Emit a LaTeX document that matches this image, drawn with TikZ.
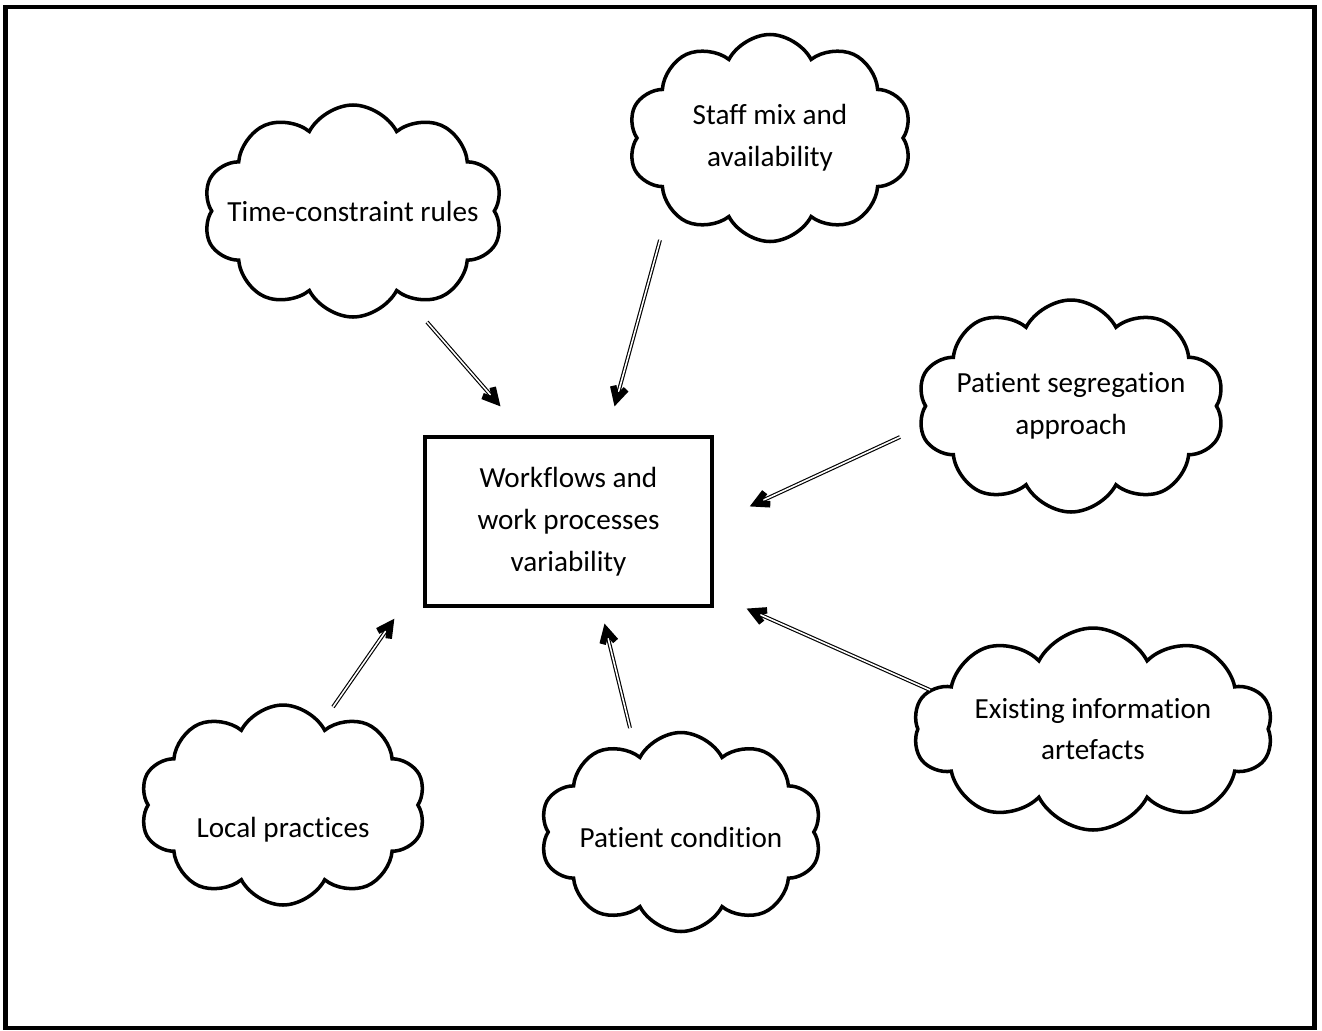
\documentclass[tikz,border=0pt]{standalone}
\usepackage{fontspec}
\setmainfont{Carlito}[Ligatures=NoCommon]
\usetikzlibrary{shapes.symbols,decorations.markings}
\newcommand{\dropby}[2]{\raisebox{-#1}[\height][\depth]{#2}}

\begin{document}
\begin{tikzpicture}[
  x=0.2mm,y=-0.2mm,
  txt/.style={align=center,font=\fontsize{16.6}{23.8}\selectfont},
  cloudbox/.style={txt,cloud,draw,line width=2pt,cloud puffs=10,cloud puff arc=125,
    cloud ignores aspect,inner sep=0pt},
  box/.style={txt,draw,line width=1.8pt,minimum width=5.74cm,minimum height=3.38cm,inner sep=0pt},
  arr/.style={line width=2.2pt,shorten >=2.2mm,
    postaction={draw=white,line width=0.9pt,shorten >=3mm},
    postaction={decorate,decoration={markings,mark=at position 1 with
      {\fill[black,shorten >=0pt,shorten <=0pt] (0mm,0mm) -- (-3.6mm,1.91mm) -- (-4.21mm,0.76mm)
         -- (-2.78mm,0mm) -- (-4.21mm,-0.76mm) -- (-3.6mm,-1.91mm) -- cycle;}}}}
]
\useasboundingbox (0,0) rectangle (1322,1030);
% ---------- frame ----------
\draw[line width=2.3pt] (5.5,7) rectangle (1314.5,1028);
% ---------- centre ----------
\node[box] (wf) at (568.5,521.5) {Workflows and\\work processes\\variability};
% ---------- factors ----------
\node[cloudbox,minimum width=6.0cm,minimum height=4.24cm,inner xsep=-0.32cm] (tcr) at (353,211) {Time-constraint rules};
\node[cloudbox,minimum width=5.68cm,minimum height=4.14cm] (staff) at (770,138) {Staff mix and\\availability};
\node[cloudbox,minimum width=6.14cm,minimum height=4.24cm,inner xsep=-0.13cm] (seg) at (1071,406) {Patient segregation\\approach};
\node[cloudbox,minimum width=7.2cm,minimum height=4.04cm] (exist) at (1093,729) {Existing information\\artefacts};
\node[cloudbox,minimum width=5.72cm,minimum height=4.0cm] (local) at (283,805) {\dropby{0.5cm}{Local practices}};
\node[cloudbox,minimum width=5.64cm,minimum height=3.98cm] (cond) at (681,832) {\dropby{0.1cm}{Patient condition}};
% ---------- influences ----------
\draw[arr] ([shift={(74,111)}]tcr.center) -- ([shift={(-68,-29)}]wf.north);
\draw[arr] ([shift={(-110,102)}]staff.center) -- ([shift={(46,-29)}]wf.north);
\draw[arr] ([shift={(-171,31)}]seg.center) -- ([shift={(36,-15)}]wf.east);
\draw[arr] ([shift={(-163,-39)}]exist.center) -- ([shift={(33,1)}]wf.south east);
\draw[arr] ([shift={(50,-98)}]local.center) -- ([shift={(-29,11)}]wf.south west);
\draw[arr] ([shift={(-51,-104)}]cond.center) -- ([shift={(36,16)}]wf.south);
\end{tikzpicture}
\end{document}
